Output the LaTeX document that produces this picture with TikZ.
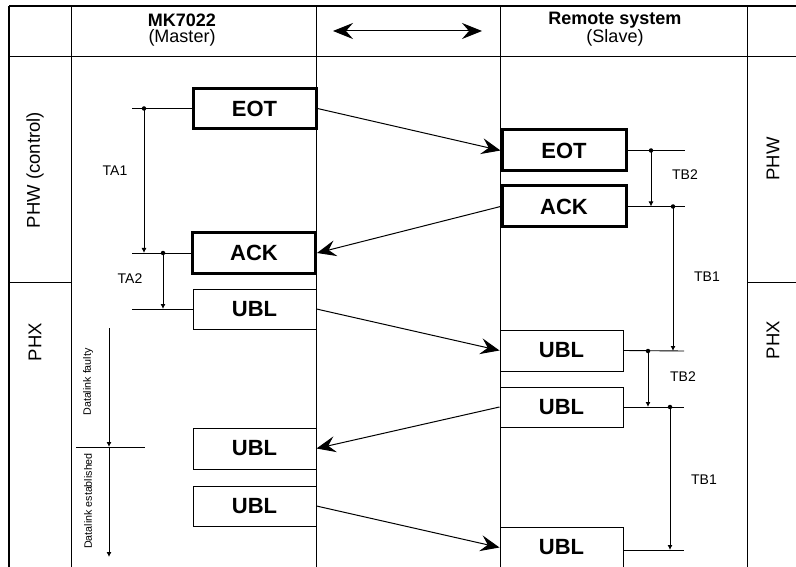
\documentclass[tikz,border=0pt]{standalone}
\usepackage{fontspec}
\setmainfont{Liberation Sans}
\usetikzlibrary{arrows.meta}
\begin{document}
\begin{tikzpicture}[x=1pt,y=-1pt,
  grid/.style={line width=1pt,black},
  msgbox/.style={draw,line width=1pt,minimum width=123pt,minimum height=40pt,inner sep=0pt,font=\fontsize{22}{26}\selectfont\bfseries},
  thickbox/.style={msgbox,line width=3pt},
  msg/.style={line width=1pt,-{Stealth[length=19pt,width=16pt,inset=7pt]}},
  tick/.style={line width=0.9pt},
  timing/.style={line width=0.9pt,-{Latex[length=5pt,width=5pt]}},
  dot/.style={circle,fill=black,inner sep=0pt,minimum size=4.5pt},
  lbl/.style={font=\fontsize{14}{16}\selectfont,inner sep=0pt},
  hdr/.style={font=\fontsize{18}{20}\selectfont,inner sep=0pt},
  side/.style={font=\fontsize{18.5}{20}\selectfont,inner sep=0pt,rotate=90},
  small/.style={font=\fontsize{10.7}{12}\selectfont,inner sep=0pt,rotate=90}]
\useasboundingbox (0,0) rectangle (796,567);
% table
\draw[line width=1.4pt] (9,6) -- (796,6);
\draw[grid] (9,57) -- (796,57);
\draw[line width=1.4pt] (9,6) -- (9,567);
\draw[grid] (71,6) -- (71,567);
\draw[grid] (316,6) -- (316,567);
\draw[grid] (500,6) -- (500,567);
\draw[grid] (747,6) -- (747,567);
\draw[grid] (9,282) -- (71,282);
\draw[grid] (747,282) -- (796,282);
% header
\node[hdr,font=\fontsize{18}{20}\selectfont\bfseries] (hm) at (182,20) {MK7022};
\node[hdr] (hm2) at (182,38) {(Master)};
\node[hdr,font=\fontsize{18}{20}\selectfont\bfseries] (hs) at (615,20) {Remote system};
\node[hdr] (hs2) at (615,38) {(Slave)};
\coordinate (al) at (333,31);
\coordinate (ar) at (482,31);
\draw[line width=1pt,{Stealth[length=20pt,width=16pt,inset=7pt]}-{Stealth[length=20pt,width=16pt,inset=7pt]}] (al) -- (ar);
% side labels
\node[side] (lphw) at (35,170) {PHW (control)};
\node[side] (lphx) at (35,342) {PHX};
\node[side] (rphw) at (773,159) {PHW};
\node[side] (rphx) at (773,340) {PHX};
% boxes master
\node[thickbox] (mEOT) at (254.5,108.5) {EOT};
\node[thickbox] (mACK) at (254,253) {ACK};
\node[msgbox] (mUBL1) at (254.5,309) {UBL};
\node[msgbox,minimum height=41pt] (mUBL2) at (254.5,448.5) {UBL};
\node[msgbox] (mUBL3) at (254.5,506) {UBL};
% boxes slave
\node[thickbox,minimum width=124pt,minimum height=41pt] (sEOT) at (564,150.5) {EOT};
\node[thickbox,minimum width=124pt,minimum height=41pt] (sACK) at (564,206.5) {ACK};
\node[msgbox,minimum height=41pt] (sUBL1) at (561.5,350.5) {UBL};
\node[msgbox] (sUBL2) at (561.5,407) {UBL};
\node[msgbox,minimum height=41pt] (sUBL3) at (561.5,547.5) {UBL};
% messages
\draw[msg] (mEOT.east) -- (sEOT.west);
\draw[msg] (sACK.west) -- (mACK.east);
\draw[msg] (mUBL1.east) -- (sUBL1.west);
\draw[msg] (sUBL2.west) -- (mUBL2.east);
\draw[msg] (mUBL3.east) -- (sUBL3.west);
% master timing
\coordinate (ma1) at (132,108.5);
\coordinate (ma2) at (132,253);
\coordinate (ma3) at (132,309);
\draw[tick] (ma1) -- (mEOT.west);
\draw[tick] (ma2) -- (mACK.west);
\draw[tick] (ma3) -- (mUBL1.west);
\node[dot] (d1) at (144,108.5) {};
\coordinate (d1e) at (144,253);
\draw[timing] (d1.center) -- (d1e);
\node[dot] (d2) at (163,253) {};
\coordinate (d2e) at (163,309);
\draw[timing] (d2.center) -- (d2e);
\node[lbl] (ta1) at (115,171) {TA1};
\node[lbl] (ta2) at (130,279) {TA2};
% slave timing
\coordinate (sb1) at (685,150.5);
\coordinate (sb2) at (685,206.5);
\coordinate (sb3) at (684,351);
\coordinate (sb4) at (684,407);
\coordinate (sb5a) at (623,550);
\coordinate (sb5) at (684,550);
\draw[tick] (sEOT.east) -- (sb1);
\draw[tick] (sACK.east) -- (sb2);
\draw[tick] (sUBL1.east) -- (sb3);
\draw[tick] (sUBL2.east) -- (sb4);
\draw[tick] (sb5a) -- (sb5);
\node[dot] (e1) at (651,150.5) {};
\coordinate (e1e) at (651,206.5);
\draw[timing] (e1.center) -- (e1e);
\node[dot] (e2) at (673,206.5) {};
\coordinate (e2e) at (673,351);
\draw[timing] (e2.center) -- (e2e);
\node[dot] (e3) at (648,351) {};
\coordinate (e3e) at (648,407);
\draw[timing] (e3.center) -- (e3e);
\node[dot] (e4) at (670,407) {};
\coordinate (e4e) at (670,550);
\draw[timing] (e4.center) -- (e4e);
\node[lbl] (tb2a) at (685,175) {TB2};
\node[lbl] (tb1a) at (707,277) {TB1};
\node[lbl] (tb2b) at (683,377) {TB2};
\node[lbl] (tb1b) at (704,480) {TB1};
% datalink
\coordinate (dl0) at (109,328);
\coordinate (dl1) at (109,447);
\coordinate (dl2) at (109,557);
\coordinate (dh0) at (76,447);
\coordinate (dh1) at (145,447);
\draw[tick] (dh0) -- (dh1);
\draw[timing] (dl0) -- (dl1);
\draw[timing] (dl1) -- (dl2);
\node[small] (dlf) at (88,382) {Datalink faulty};
\node[small] (dle) at (88,501) {Datalink established};
\end{tikzpicture}
\end{document}
